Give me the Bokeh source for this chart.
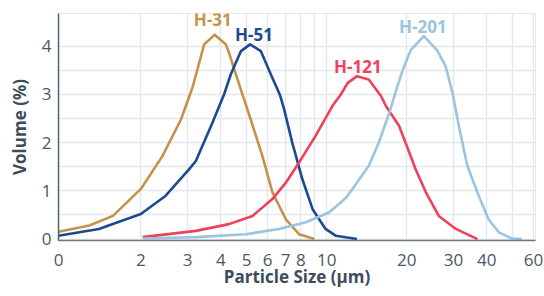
from bokeh.plotting import figure
from bokeh.models import FixedTicker, CustomJSTickFormatter, ColumnDataSource
from bokeh.core.properties import value
from bokeh.embed import file_html
from bokeh.resources import INLINE

# ---- data ----
h31_x = [0.98, 1.28, 1.57, 2.0, 2.41, 2.83, 3.13, 3.46, 3.79, 4.17, 4.29, 4.55, 4.89, 5.18, 5.73, 6.25, 7.02, 7.87, 8.98]
h31_y = [0.15, 0.28, 0.48, 1.04, 1.72, 2.48, 3.15, 4.04, 4.24, 4.04, 3.87, 3.42, 2.90, 2.48, 1.72, 0.97, 0.41, 0.10, 0.0]

h51_x = [0.98, 1.39, 2.0, 2.48, 3.04, 3.22, 3.72, 4.11, 4.36, 4.76, 5.15, 5.65, 6.16, 6.66, 6.91, 7.42, 8.1, 8.85, 9.9, 10.8, 13.0]
h51_y = [0.07, 0.21, 0.52, 0.90, 1.45, 1.62, 2.42, 3.0, 3.42, 3.90, 4.04, 3.90, 3.42, 3.0, 2.70, 2.0, 1.24, 0.62, 0.21, 0.07, 0.0]

h121_x = [2.03, 3.22, 4.29, 5.26, 6.25, 7.02, 7.87, 9.08, 10.5, 11.3, 12.0, 13.0, 14.4, 16.0, 16.7, 18.7, 19.8, 21.6, 23.6, 26.4, 30.6, 36.9]
h121_y = [0.04, 0.17, 0.31, 0.48, 0.83, 1.17, 1.59, 2.14, 2.76, 3.0, 3.24, 3.38, 3.31, 2.97, 2.76, 2.35, 2.0, 1.45, 0.97, 0.48, 0.21, 0.0]

h201_x = [2.03, 3.22, 4.96, 6.62, 8.35, 10.2, 11.8, 12.5, 14.4, 15.7, 17.2, 18.4, 19.3, 20.7, 23.2, 26.0, 28.0, 29.7, 31.4, 33.8, 37.3, 40.6, 44.4, 49.8, 54.2]
h201_y = [0.01, 0.04, 0.10, 0.21, 0.35, 0.55, 0.85, 1.04, 1.52, 2.0, 2.62, 3.15, 3.50, 3.92, 4.21, 3.92, 3.59, 3.04, 2.35, 1.52, 0.90, 0.41, 0.14, 0.01, 0.0]

series_names = ["H-31", "H-51", "H-121", "H-201"]
series_colors = ["#c4924a", "#1b4a8e", "#f0405c", "#9cc3e2"]
label_x = [3.73, 5.33, 13.1, 23.0]
label_y = [4.55, 4.24, 3.59, 4.42]

x_ticks = [0.98, 2, 3, 4, 5, 6, 7, 8, 10, 20, 30, 40, 60]
x_minor = [9, 50]
y_ticks = [0, 1, 2, 3, 4]
y_minor = [0.5, 1.5, 2.5, 3.5]
x_title = "Particle Size (µm)"
y_title = "Volume (%)"

# ---- figure ----
p = figure(width=544, height=296, x_axis_type="log",
           x_range=(0.98, 61), y_range=(-0.03, 4.68),
           output_backend="svg", toolbar_location=None,
           min_border_left=58, min_border_right=9,
           min_border_top=13, min_border_bottom=56)
p.background_fill_color = "white"
p.border_fill_color = "white"
p.outline_line_color = "#e4e8ec"
p.outline_line_width = 1

grid_col = "#e4e8ec"
p.xaxis.ticker = FixedTicker(ticks=x_ticks, minor_ticks=x_minor)
p.yaxis.ticker = FixedTicker(ticks=y_ticks, minor_ticks=y_minor)
p.xaxis.formatter = CustomJSTickFormatter(code="return tick < 1.5 ? '0' : String(Math.round(tick));")
for g in (p.xgrid, p.ygrid):
    g.grid_line_color = grid_col
    g.grid_line_width = 1.5
    g.minor_grid_line_color = grid_col
    g.minor_grid_line_width = 1.5

tick_col = "#4a5763"
title_col = "#3b4c5a"
for ax in (p.xaxis, p.yaxis):
    ax.major_tick_line_color = None
    ax.minor_tick_line_color = None
    ax.major_tick_out = 0
    ax.minor_tick_out = 0
    ax.major_label_text_font = "Open Sans"
    ax.major_label_text_font_size = "17px"
    ax.major_label_text_color = tick_col
    ax.axis_label_text_font = "Open Sans"
    ax.axis_label_text_font_style = "bold"
    ax.axis_label_text_font_size = "17px"
    ax.axis_label_text_color = title_col
p.xaxis.axis_line_color = "#6b7880"
p.xaxis.axis_line_width = 1.5
p.yaxis.axis_line_color = "#4f6470"
p.yaxis.axis_line_width = 1.5
p.xaxis.axis_label = x_title
p.yaxis.axis_label = y_title
p.xaxis.major_label_standoff = 13
p.xaxis.axis_label_standoff = -4
p.yaxis.major_label_standoff = 7
p.yaxis.axis_label_standoff = 8

xs = [h31_x, h51_x, h121_x, h201_x]
ys = [h31_y, h51_y, h121_y, h201_y]
for sx, sy, col in zip(xs, ys, series_colors):
    p.line(sx, sy, line_color=col, line_width=2.6, line_join="round")

src = ColumnDataSource(dict(x=label_x, y=label_y, t=series_names, c=series_colors))
p.text(x="x", y="y", text="t", text_color="c", source=src,
       text_font=value("Open Sans"), text_font_style="bold",
       text_font_size="17px", text_align="center", text_baseline="middle")

open("out.html", "w").write(file_html(p, INLINE))
